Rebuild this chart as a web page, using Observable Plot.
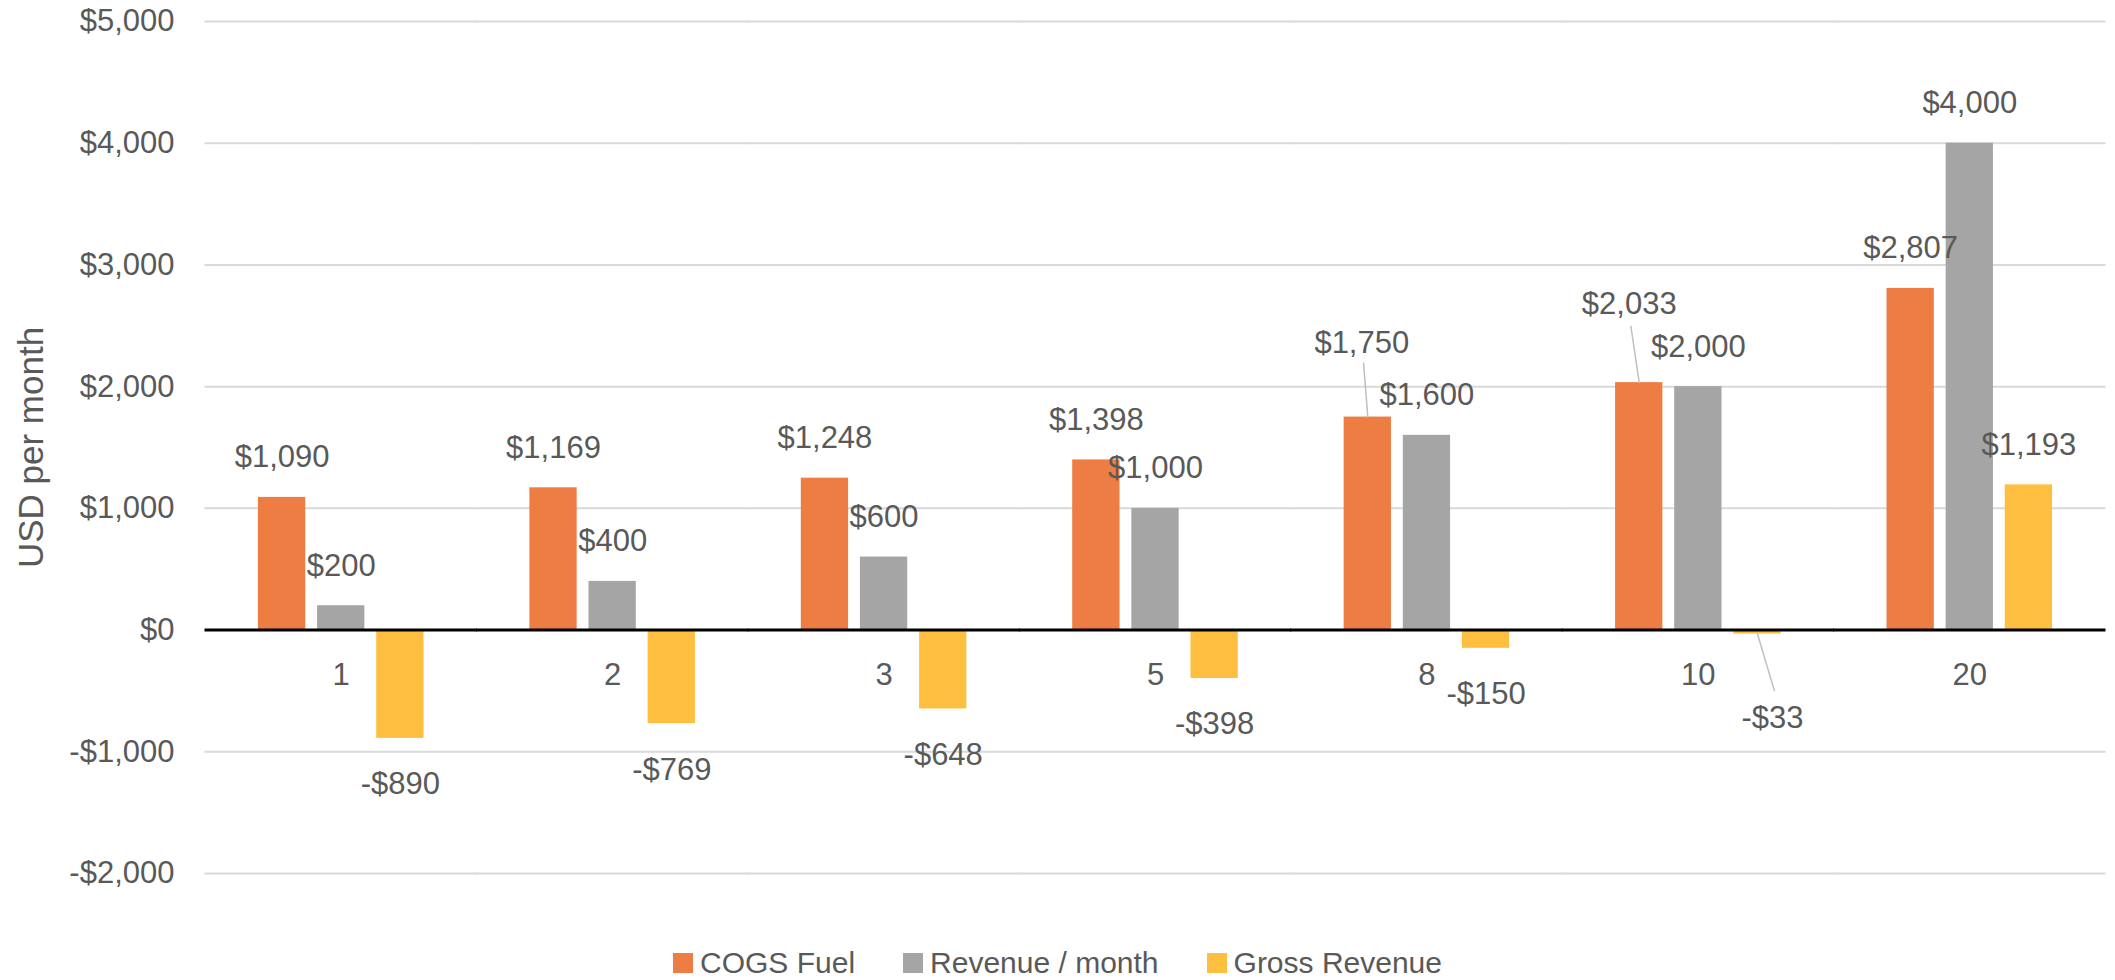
<!DOCTYPE html>
<html>
<head>
<meta charset="utf-8">
<script src="https://cdn.jsdelivr.net/npm/d3@7"></script>
<script src="https://cdn.jsdelivr.net/npm/@observablehq/plot@0.6"></script>
<style>
  html, body { margin: 0; padding: 0; background: #fff; }
  body { width: 2115px; height: 980px; overflow: hidden; font-family: "Liberation Sans", Arial, sans-serif; }
  #legend { display: flex; justify-content: center; align-items: center; height: 40px; margin-top: 3px; gap: 48px; color: #595959; font-size: 30px; }
  #legend .item { display: flex; align-items: center; }
  #legend .sw { width: 20px; height: 20px; margin-right: 7px; }
</style>
</head>
<body>
<div id="chart"></div>
<div id="legend"></div>
<script>
// ---- data ----
const categories = ["1", "2", "3", "5", "8", "10", "20"];
const seriesNames = ["COGS Fuel", "Revenue / month", "Gross Revenue"];
const cogsFuel = [1090, 1169, 1248, 1398, 1750, 2033, 2807];
const revenueMonth = [200, 400, 600, 1000, 1600, 2000, 4000];
const grossRevenue = [-890, -769, -648, -398, -150, -33, 1193];
const yTicks = [-2000, -1000, 0, 1000, 2000, 3000, 4000, 5000];
const axisTitle = "USD per month";

// ---- styles ----
const colors = ["#ED7D42", "#A5A5A5", "#FEBF40"];
const textColor = "#595959";
const fxPadInner = 0.39, fxPadOuter = 0.195;
const plotW = 2115, mL = 205, mR = 10;
// half of the gap between facets, so that grid lines run continuously
const halfGap = (plotW - mL - mR) / categories.length * fxPadOuter + 0.5;
// manually moved data labels (with leader lines), as in the reference
const nudges = [
  {series: "COGS Fuel", category: "8", dx: -6, dy: -74, len: 54, rotate: -4.5},
  {series: "COGS Fuel", category: "10", dx: -10, dy: -79, len: 57, rotate: -8.4},
  {series: "Gross Revenue", category: "10", dx: 15, dy: 84, len: 59, rotate: 163.4}
];

const seriesValues = [cogsFuel, revenueMonth, grossRevenue];
const rows = categories.flatMap((c, i) =>
  seriesNames.map((s, j) => ({category: c, series: s, value: seriesValues[j][i]}))
);
const gridRows = categories.flatMap(c => yTicks.filter(v => v !== 0).map(v => ({category: c, v})));

const fmt = v => (v < 0 ? "-$" : "$") + d3.format(",")(Math.abs(v));
const isNudged = d => nudges.some(n => n.series === d.series && n.category === d.category);
const leaderShape = {draw(context, l) { context.moveTo(0, 0); context.lineTo(0, -l); }};

const labelOpts = {fx: "category", x: "series", y: "value", text: d => fmt(d.value), fontSize: 31, fill: textColor};

const chart = Plot.plot({
  width: plotW,
  height: 940,
  marginLeft: mL,
  marginRight: mR,
  marginTop: 21,
  marginBottom: 67,
  style: {fontFamily: "'Liberation Sans', Arial, sans-serif", color: textColor, background: "#fff"},
  fx: {domain: categories, paddingInner: fxPadInner, paddingOuter: fxPadOuter, round: false, axis: null, label: null},
  x: {domain: seriesNames, paddingInner: 0.2, paddingOuter: 0, round: false, axis: null, label: null},
  y: {domain: [-2000, 5000], axis: null, label: null},
  color: {domain: seriesNames, range: colors},
  marks: [
    Plot.ruleY(gridRows, {fx: "category", y: "v", stroke: "#d9d9d9", strokeWidth: 2, insetLeft: -halfGap, insetRight: -halfGap}),
    Plot.text(yTicks, {fx: () => categories[0], y: d => d, text: fmt, frameAnchor: "left", textAnchor: "end", dx: -31 - halfGap + 0.5, fontSize: 31, fill: textColor}),
    Plot.text([axisTitle], {fx: () => categories[0], text: d => d, frameAnchor: "left", textAnchor: "middle", rotate: -90, dx: -174 - halfGap + 0.5, fontSize: 35, fill: textColor}),
    Plot.barY(rows, {fx: "category", x: "series", y: "value", fill: "series"}),
    Plot.ruleY(categories, {fx: d => d, y: 0, stroke: "black", strokeWidth: 3, insetLeft: -halfGap, insetRight: -halfGap}),
    Plot.text(rows, {...labelOpts, filter: d => d.value >= 0 && !isNudged(d), dy: -40}),
    Plot.text(rows, {...labelOpts, filter: d => d.value < 0 && !isNudged(d), dy: 46}),
    ...nudges.map(n => Plot.text(rows, {...labelOpts, filter: d => d.series === n.series && d.category === n.category, dx: n.dx, dy: n.dy})),
    ...nudges.map(n => Plot.vector(rows, {
      fx: "category", x: "series", y: "value",
      filter: d => d.series === n.series && d.category === n.category,
      length: n.len, rotate: n.rotate, anchor: "start", shape: leaderShape,
      stroke: "#bfbfbf", strokeWidth: 1.5
    })),
    Plot.text(categories, {fx: d => d, y: 0, text: d => d, dy: 45.5, fontSize: 31, fill: textColor})
  ]
});
document.getElementById("chart").appendChild(chart);

// legend
const legend = document.getElementById("legend");
seriesNames.forEach((s, i) => {
  const item = document.createElement("div");
  item.className = "item";
  const sw = document.createElement("span");
  sw.className = "sw";
  sw.style.background = colors[i];
  const lab = document.createElement("span");
  lab.textContent = s;
  item.appendChild(sw);
  item.appendChild(lab);
  legend.appendChild(item);
});
</script>
</body>
</html>
